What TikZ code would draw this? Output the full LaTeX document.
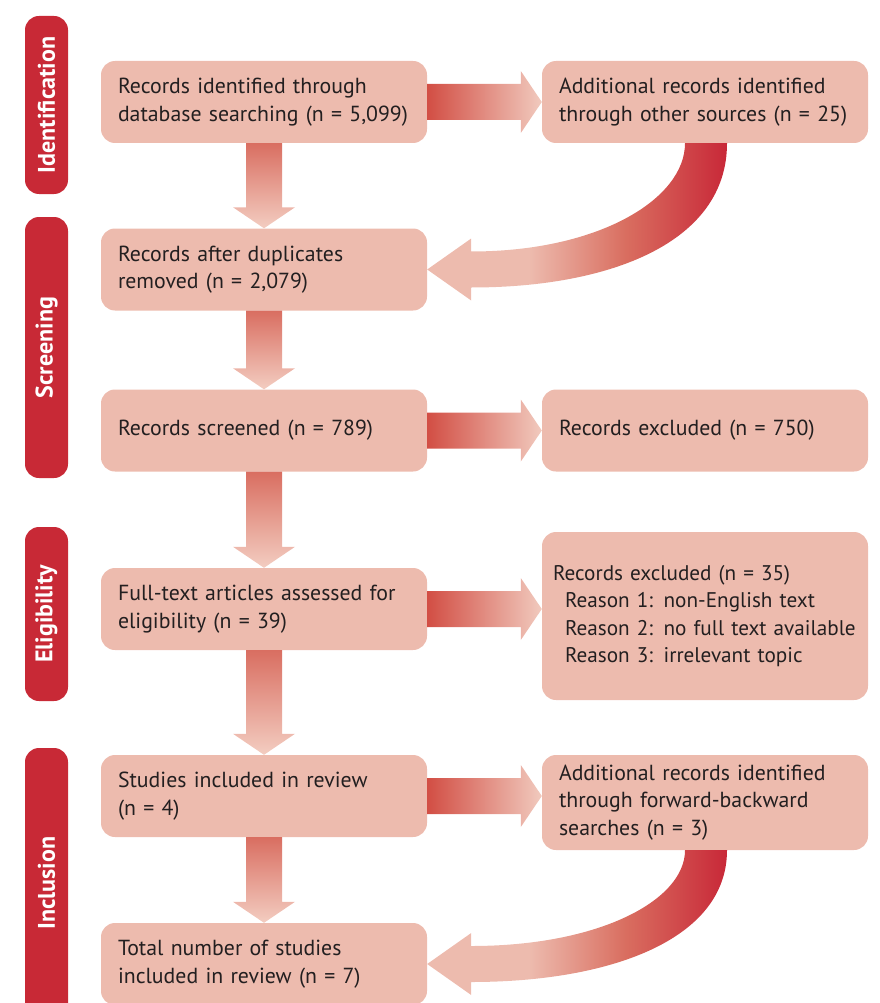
\documentclass[tikz,border=0pt]{standalone}
\usepackage{fontspec}
\setmainfont{PT Sans}
\usetikzlibrary{calc}
\definecolor{boxfill}{RGB}{237,187,174}
\definecolor{labred}{RGB}{200,41,54}
\definecolor{txt}{RGB}{35,31,32}
\definecolor{arrleft}{RGB}{210,78,68}
\definecolor{arrright}{RGB}{241,202,190}
\definecolor{arrtop}{RGB}{217,110,97}
\definecolor{arrbot}{RGB}{243,205,193}
\definecolor{midred}{RGB}{217,110,96}
\definecolor{darkred}{RGB}{200,40,56}
\pgfdeclarehorizontalshading{curveshade}{100bp}{color(0bp)=(boxfill); color(42bp)=(boxfill); color(58bp)=(midred); color(75bp)=(darkred); color(100bp)=(darkred)}
\tikzset{
  box/.style={fill=boxfill, rounded corners=14pt, minimum width=326pt, minimum height=82pt,
    inner xsep=17pt, text width=292pt, align=left, text=txt,
    font=\fontsize{21.8pt}{27.5pt}\selectfont},
  sidelab/.style={fill=labred, rounded corners=14pt, rotate=90, minimum height=43pt,
    text=white, font=\fontsize{24pt}{28pt}\selectfont\bfseries, inner sep=0pt}
}
\newcommand\darrow[2]{%
  \path[top color=arrtop, bottom color=arrbot] let \p1=(#1.south), \p2=(#2.north) in
  (\x1-18pt,\y1) -- (\x1+18pt,\y1) -- (\x1+18pt,\y2+21pt) -- (\x1+31pt,\y2+21pt) --
  (\x1,\y2) -- (\x1-31pt,\y2+21pt) -- (\x1-18pt,\y2+21pt) -- cycle;}
\newcommand\rarrow[2]{%
  \path[left color=arrleft, right color=arrright] let \p1=(#1.east), \p2=(#2.west) in
  (\x1,\y1+18pt) -- (\x2-21pt,\y1+18pt) -- (\x2-21pt,\y1+31pt) -- (\x2,\y1) --
  (\x2-21pt,\y1-31pt) -- (\x2-21pt,\y1-18pt) -- (\x1,\y1-18pt) -- cycle;}
\newcommand\carrow[2]{%
  \path[shading=curveshade] let \p1=(#1.south), \p2=(#2.east), \n1={\y1-\y2} in
  (\x1-20pt,\y1) .. controls (\x1-20pt,\y1-0.44*\n1*1pt) and (\x2+172pt,\y2+18pt) ..
  (\x2+44pt,\y2+18pt) -- (\x2+44pt,\y2+31pt) -- (\x2,\y2) -- (\x2+44pt,\y2-31pt) --
  (\x2+44pt,\y2-18pt) .. controls (\x2+182pt,\y2-18pt) and (\x1+22pt,\y1-0.79*\n1*1pt) ..
  (\x1+22pt,\y1) -- cycle;}
\begin{document}
\begin{tikzpicture}[x=1pt,y=1pt]
\useasboundingbox (0,0) rectangle (879,-1003);
\clip (0,0) rectangle (879,-1003);
% side labels
\node[sidelab, minimum width=178pt] (l1) at (46.5,-105) {Identification};
\node[sidelab, minimum width=261pt] (l2) at (46.5,-347.5) {Screening};
\node[sidelab, minimum width=174pt] (l3) at (46.5,-614) {Eligibility};
\node[sidelab, minimum width=270pt] (l4) at (46.5,-883) {Inclusion};
% left column
\node[box] (b1) at (264,-102) {Records identified through\\database searching (n = 5,099)};
\node[box] (b2) at (264,-269.5) {Records after duplicates\\removed (n = 2,079)};
\node[box] (b3) at (264,-430.5) {Records screened (n = 789)};
\node[box] (b4) at (264,-609) {Full-text articles assessed for\\eligibility (n = 39)};
\node[box] (b5) at (264,-796) {Studies included in review\\(n = 4)};
\node[box] (b6) at (264,-964) {Total number of studies\\included in review (n = 7)};
% right column
\node[box] (r1) at (705,-102) {Additional records identified\\through other sources (n = 25)};
\node[box] (r2) at (705,-430.5) {Records excluded (n = 750)};
\node[box, minimum height=168pt, inner xsep=11pt, text width=304pt, font=\fontsize{21.2pt}{27.5pt}\selectfont] (r3) at (705,-616)
  {\mbox{Records excluded (n = 35)}\\\mbox{\hspace*{12pt}Reason 1: non-English text}\\\mbox{\hspace*{12pt}Reason 2: no full text available}\\\mbox{\hspace*{12pt}Reason 3: irrelevant topic}};
\node[box, minimum height=95pt] (r4) at (705,-802.5) {Additional records identified\\through forward-backward\\searches (n = 3)};
% arrows
\darrow{b1}{b2}
\darrow{b2}{b3}
\darrow{b3}{b4}
\darrow{b4}{b5}
\darrow{b5}{b6}
\rarrow{b1}{r1}
\rarrow{b3}{r2}
\rarrow{b4}{r3}
\rarrow{b5}{r4}
\carrow{r1}{b2}
\carrow{r4}{b6}
\end{tikzpicture}
\end{document}
